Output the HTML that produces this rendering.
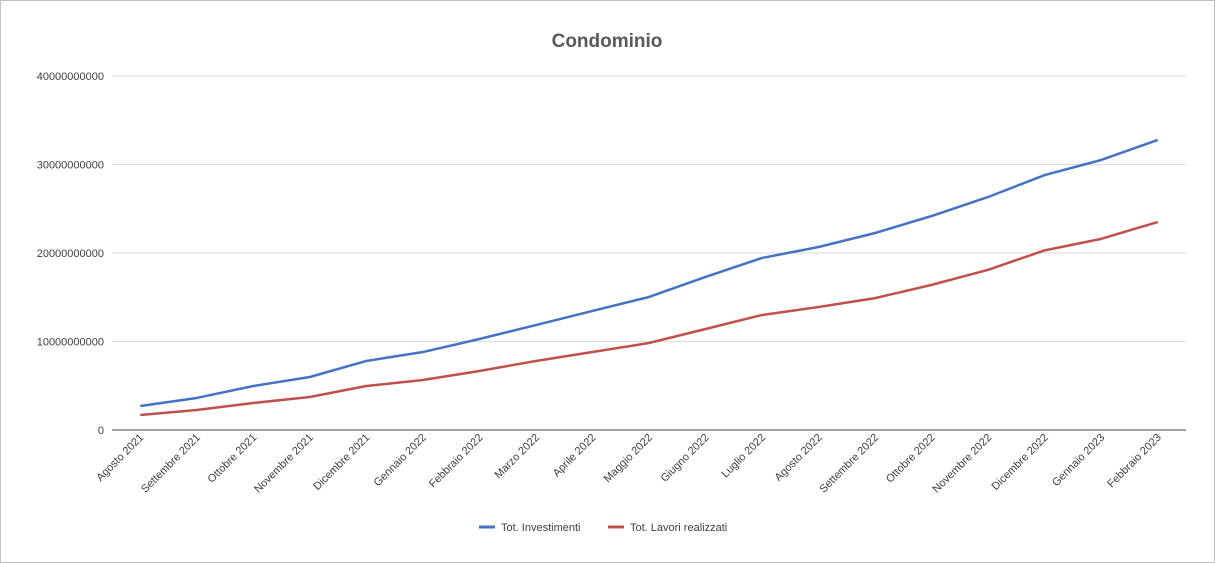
<!DOCTYPE html>
<html><head><meta charset="utf-8"><style>
html,body{margin:0;padding:0;background:#fff;}
svg{display:block;font-family:"Liberation Sans",sans-serif;}
</style></head><body>
<svg id="chart" width="1215" height="563">
<rect x="0.5" y="0.5" width="1214" height="562" fill="#fff" stroke="#bfbfbf"/>
<text x="607" y="47" text-anchor="middle" font-size="19" font-weight="bold" fill="#595959">Condominio</text>
<g id="grid"></g><g id="series"></g><g id="xlabels"></g>
<g>
<line x1="479" y1="527" x2="495" y2="527" stroke="#4472c4" stroke-width="3"/>
<text x="501" y="531" font-size="11" fill="#404040">Tot. Investimenti</text>
<line x1="608" y1="527" x2="624" y2="527" stroke="#c0504d" stroke-width="3"/>
<text x="630" y="531" font-size="11" fill="#404040">Tot. Lavori realizzati</text>
</g>
</svg>
<script>
const categories=["Agosto 2021","Settembre 2021","Ottobre 2021","Novembre 2021","Dicembre 2021","Gennaio 2022","Febbraio 2022","Marzo 2022","Aprile 2022","Maggio 2022","Giugno 2022","Luglio 2022","Agosto 2022","Settembre 2022","Ottobre 2022","Novembre 2022","Dicembre 2022","Gennaio 2023","Febbraio 2023"];
const investimenti=[2.71e9,3.62e9,4.97e9,5.99e9,7.8e9,8.81e9,10.28e9,11.86e9,13.45e9,15.03e9,17.29e9,19.44e9,20.68e9,22.26e9,24.18e9,26.33e9,28.81e9,30.51e9,32.77e9];
const lavori=[1.69e9,2.26e9,3.05e9,3.73e9,4.97e9,5.65e9,6.67e9,7.8e9,8.81e9,9.83e9,11.41e9,13.0e9,13.9e9,14.9e9,16.4e9,18.1e9,20.3e9,21.6e9,23.5e9];
const yTicks=[0,10000000000,20000000000,30000000000,40000000000];
const ns="http://www.w3.org/2000/svg";
const x0=112,x1=1186,y0=430,yTop=76,yMax=40e9;
const step=(x1-x0)/categories.length;
const xs=i=>x0+step*(i+0.5);
const ys=v=>y0-(v/yMax)*(y0-yTop);
const grid=document.getElementById('grid');
yTicks.forEach(t=>{
 const l=document.createElementNS(ns,'line');
 l.setAttribute('x1',x0);l.setAttribute('x2',x1);l.setAttribute('y1',ys(t));l.setAttribute('y2',ys(t));
 l.setAttribute('stroke',t===0?'#404040':'#d9d9d9');
 
 
 grid.appendChild(l);
 const tx=document.createElementNS(ns,'text');
 tx.setAttribute('x',104);tx.setAttribute('y',ys(t)+4);tx.setAttribute('text-anchor','end');
 tx.setAttribute('font-size','11');tx.setAttribute('fill','#404040');
 tx.textContent=String(t);
 
 
 grid.appendChild(tx);
});
const xl=document.getElementById('xlabels');
categories.forEach((c,i)=>{
 const tx=document.createElementNS(ns,'text');
 const x=xs(i)+4,y=438;
 tx.setAttribute('x',x);tx.setAttribute('y',y);tx.setAttribute('text-anchor','end');
 tx.setAttribute('font-size','11');tx.setAttribute('fill','#404040');
 tx.setAttribute('transform','rotate(-45 '+x+' '+y+')');
 tx.textContent=c;
 
 
 xl.appendChild(tx);
});
const sg=document.getElementById('series');
[[investimenti,'#4472c4','line-investimenti'],[lavori,'#c0504d','line-lavori']].forEach(([d,c,n])=>{
 const p=document.createElementNS(ns,'polyline');
 p.setAttribute('points',d.map((v,i)=>xs(i)+','+ys(v)).join(' '));
 p.setAttribute('fill','none');p.setAttribute('stroke',c);p.setAttribute('stroke-width','2.5');
 p.setAttribute('stroke-linejoin','round');
 
 
 sg.appendChild(p);
});
</script>
</body></html>
